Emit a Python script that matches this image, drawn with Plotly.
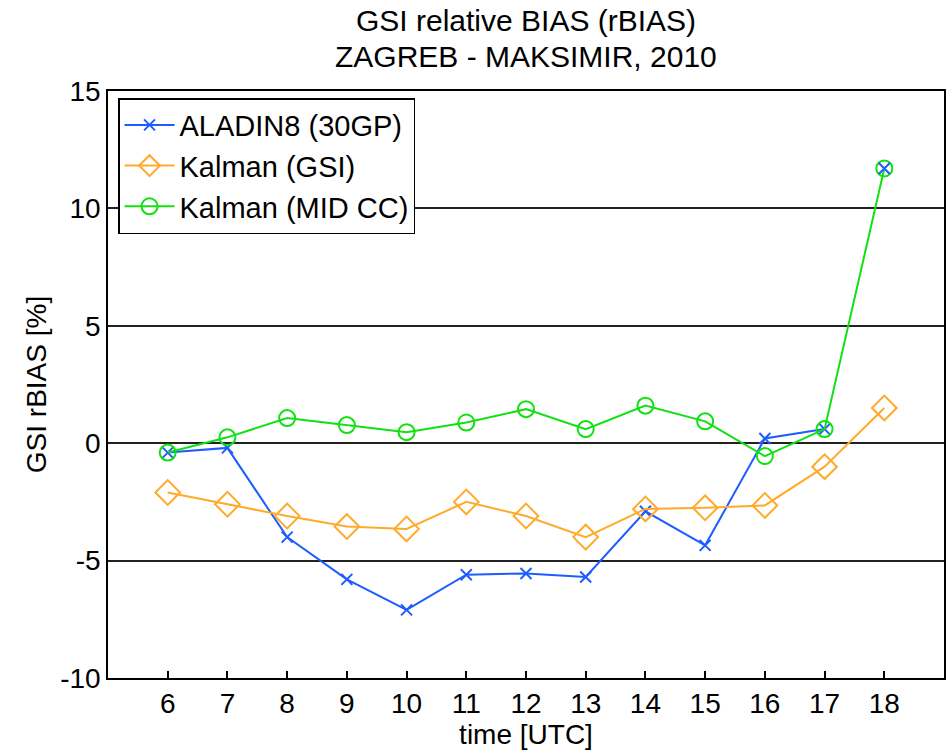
import plotly.graph_objects as go

hours = [6, 7, 8, 9, 10, 11, 12, 13, 14, 15, 16, 17, 18]
aladin = [-0.4, -0.2, -4.0, -5.8, -7.1, -5.6, -5.55, -5.7, -2.9, -4.35, 0.2, 0.6, 11.7]
kalman_gsi = [-2.1, -2.6, -3.1, -3.55, -3.65, -2.5, -3.1, -4.0, -2.8, -2.75, -2.65, -1.0, 1.5]
kalman_mid = [-0.4, 0.25, 1.07, 0.77, 0.47, 0.88, 1.45, 0.6, 1.6, 0.93, -0.55, 0.6, 11.7]
y_ticks = [-10, -5, 0, 5, 10, 15]
y_labels = ["-10", "-5", "0", "5", "10", "15"]
title_lines = ["GSI relative BIAS (rBIAS)", "ZAGREB - MAKSIMIR, 2010"]

FONT = "Liberation Sans, Arial, sans-serif"
FS_T = 30
FS_L = 29
FS_A = 28

BLUE = "#1F5CFF"
ORANGE = "#FFAA2A"
GREEN = "#11E011"

fig = go.Figure()
fig.add_trace(go.Scatter(x=hours[:-1], y=aladin[:-1], name="ALADIN8 (30GP)", mode="lines+markers",
                         line=dict(color=BLUE, width=2),
                         marker=dict(symbol="x-thin", size=11, line=dict(color=BLUE, width=2))))
fig.add_trace(go.Scatter(x=hours, y=kalman_gsi, name="Kalman (GSI)", mode="lines+markers",
                         line=dict(color=ORANGE, width=2),
                         marker=dict(symbol="diamond-open", size=19, color=ORANGE, line=dict(width=2))))
fig.add_trace(go.Scatter(x=hours, y=kalman_mid, name="Kalman (MID CC)", mode="lines+markers",
                         line=dict(color=GREEN, width=2),
                         marker=dict(symbol="circle-open", size=16, color=GREEN, line=dict(width=2))))
fig.add_trace(go.Scatter(x=hours[-1:], y=aladin[-1:], mode="markers", showlegend=False,
                         marker=dict(symbol="x-thin", size=11, line=dict(color=BLUE, width=2))))

for i, txt in enumerate(title_lines):
    fig.add_annotation(text=txt, xref="paper", yref="paper", x=0.5, xanchor="center",
                       y=1 + (91 - (20 + 37 * i)) / 587, yanchor="middle", showarrow=False,
                       font=dict(family=FONT, size=FS_T, color="black"))

fig.update_layout(
    width=948, height=752,
    margin=dict(l=108, r=4, t=91, b=74, autoexpand=False),
    paper_bgcolor="white", plot_bgcolor="white",
    font=dict(family=FONT, size=FS_A, color="black"),
    showlegend=True,
    legend=dict(x=0.012, y=0.988, xanchor="left", yanchor="top",
                bordercolor="black", borderwidth=1.5, bgcolor="white",
                font=dict(family=FONT, size=FS_L), tracegroupgap=0, itemwidth=50),
    xaxis=dict(range=[5, 19], tickvals=hours, ticks="inside", ticklen=7, tickwidth=1.5,
               tickcolor="black", showline=True, linecolor="black", linewidth=1.5,
               mirror=True, showgrid=False, zeroline=False, automargin=False,
               title=dict(text="time [UTC]", standoff=2, font=dict(size=FS_A)),
               tickfont=dict(size=FS_A)),
    yaxis=dict(range=[-10, 15], tickvals=y_ticks, ticktext=y_labels, ticks="", showline=True,
               linecolor="black", linewidth=1.5, mirror=True, showgrid=True,
               gridcolor="#222222", gridwidth=1.5, zeroline=False, automargin=False,
               title=dict(text="GSI rBIAS [%]", standoff=5, font=dict(size=FS_A)),
               tickfont=dict(size=FS_A)),
)

fig.write_html("out.html", config={"displayModeBar": False},
               post_script="document.body.style.margin='0';")
